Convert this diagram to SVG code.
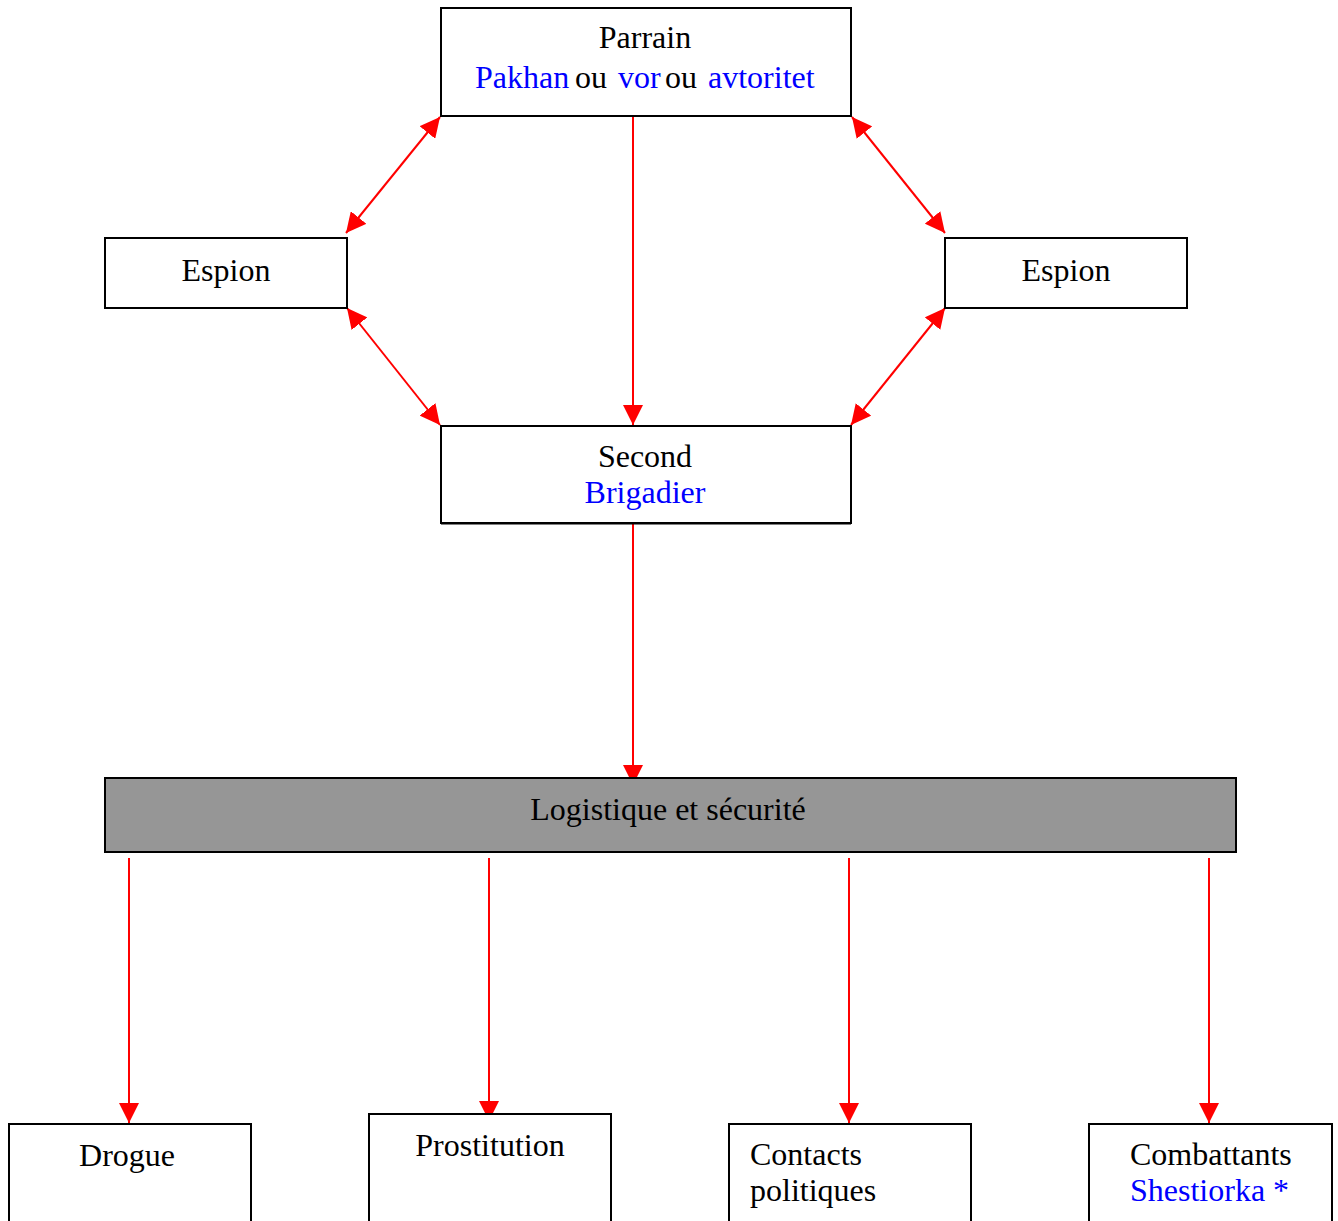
<svg xmlns="http://www.w3.org/2000/svg" width="1338" height="1221" viewBox="0 0 1338 1221">
<style>
.box{fill:#fff;stroke:#000;stroke-width:2}
.t{font-family:"Liberation Serif","Times New Roman",serif;font-size:32px;fill:#000}
.b{fill:#0000ff}
.c{stroke:#ff0000;stroke-width:2;fill:none}
</style>
<defs>
<marker id="ah" viewBox="0 0 20 20" refX="20" refY="10" markerWidth="20" markerHeight="20" markerUnits="userSpaceOnUse" orient="auto-start-reverse">
<path d="M0,0 L20,10 L0,20 Z" fill="#ff0000"/>
</marker>
</defs>
<g id="connectors">
<line class="c" x1="633" y1="116" x2="633" y2="425" marker-end="url(#ah)"/>
<line class="c" x1="633" y1="524" x2="633" y2="785" marker-end="url(#ah)"/>
<line class="c" x1="440" y1="117" x2="346" y2="233" marker-start="url(#ah)" marker-end="url(#ah)"/>
<line class="c" x1="852" y1="117" x2="945" y2="233" marker-start="url(#ah)" marker-end="url(#ah)"/>
<line class="c" x1="347" y1="308" x2="440" y2="425" marker-start="url(#ah)" marker-end="url(#ah)"/>
<line class="c" x1="945" y1="308" x2="851" y2="425" marker-start="url(#ah)" marker-end="url(#ah)"/>
<line class="c" x1="129" y1="858" x2="129" y2="1123" marker-end="url(#ah)"/>
<line class="c" x1="489" y1="858" x2="489" y2="1121" marker-end="url(#ah)"/>
<line class="c" x1="849" y1="858" x2="849" y2="1123" marker-end="url(#ah)"/>
<line class="c" x1="1209" y1="858" x2="1209" y2="1123" marker-end="url(#ah)"/>
</g>
<g id="parrain">
<rect class="box" x="441" y="8" width="410" height="108"/>
<text class="t" x="645" y="48" text-anchor="middle">Parrain</text>
<text class="t b" x="475" y="88">Pakhan</text>
<text class="t" x="575" y="88">ou</text>
<text class="t b" x="618" y="88">vor</text>
<text class="t" x="665" y="88">ou</text>
<text class="t b" x="708" y="88">avtoritet</text>
</g>
<g id="espion-left">
<rect class="box" x="105" y="238" width="242" height="70"/>
<text class="t" x="226" y="281" text-anchor="middle">Espion</text>
</g>
<g id="espion-right">
<rect class="box" x="945" y="238" width="242" height="70"/>
<text class="t" x="1066" y="281" text-anchor="middle">Espion</text>
</g>
<g id="second">
<rect class="box" x="441" y="426" width="410" height="97"/>
<line x1="441" y1="524" x2="851" y2="524" stroke="#000" stroke-width="1"/>
<text class="t" x="645" y="467" text-anchor="middle">Second</text>
<text class="t b" x="645" y="503" text-anchor="middle">Brigadier</text>
</g>
<g id="logistique">
<rect x="105" y="778" width="1131" height="74" fill="#969696" stroke="#000" stroke-width="2"/>
<text class="t" x="668" y="820" text-anchor="middle">Logistique et sécurité</text>
</g>
<g id="drogue">
<rect class="box" x="9" y="1124" width="242" height="110"/>
<text class="t" x="127" y="1166" text-anchor="middle">Drogue</text>
</g>
<g id="prostitution">
<rect class="box" x="369" y="1114" width="242" height="120"/>
<text class="t" x="490" y="1156" text-anchor="middle">Prostitution</text>
</g>
<g id="contacts">
<rect class="box" x="729" y="1124" width="242" height="110"/>
<text class="t" x="750" y="1165">Contacts</text>
<text class="t" x="750" y="1201">politiques</text>
</g>
<g id="combattants">
<rect class="box" x="1089" y="1124" width="243" height="110"/>
<text class="t" x="1130" y="1165">Combattants</text>
<text class="t b" x="1130" y="1201">Shestiorka *</text>
</g>
</svg>
